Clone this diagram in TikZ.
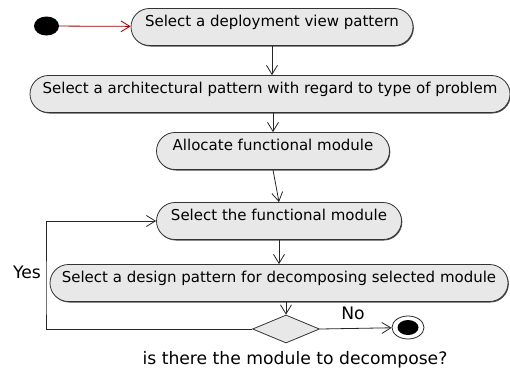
\documentclass[tikz,border=0pt]{standalone}
\usepackage{fontspec}
\setmainfont{DejaVu Sans}
\usetikzlibrary{arrows.meta,shapes.geometric,shadows}

\begin{document}
\begin{tikzpicture}[x=1pt,y=1pt,
    action/.style={draw=black!80, line width=0.8pt, fill=black!9, rounded corners=18.5pt,
        minimum height=37pt, inner xsep=4pt, inner ysep=3pt,
        text height=15pt, text depth=16pt, font=\fontsize{15}{18}\selectfont,
        drop shadow={shadow xshift=0.8pt, shadow yshift=-1pt, fill=black!70, opacity=1}},
    flow/.style={draw=black!85, line width=0.8pt, -{Straight Barb[length=9pt,width=11pt]}},
    note/.style={inner sep=0pt, font=\fontsize{17.2}{20}\selectfont}]
    \useasboundingbox (0,0) rectangle (510,-372);
    \node [ellipse, fill=black, minimum width=25pt, minimum height=19pt, inner sep=0pt] (start) at (46.5,-26) {};
    \node [action, minimum width=282pt] (deploy) at (272,-27) {Select a deployment view pattern};
    \node [action, minimum width=480pt] (archi) at (270,-94) {Select a architectural pattern with regard to type of problem};
    \node [action, minimum width=233pt] (alloc) at (273,-151) {Allocate functional module};
    \node [action, minimum width=245pt] (selmod) at (279,-221) {Select the functional module};
    \node [action, minimum width=458pt] (design) at (279,-283) {Select a design pattern for decomposing selected module};
    \node [diamond, draw=black!80, line width=0.8pt, fill=black!9, minimum width=67pt, minimum height=28pt, inner sep=0pt] (decide) at (286,-329) {};
    \node [ellipse, draw=black!85, line width=0.8pt, fill=white, minimum width=32pt, minimum height=23pt, inner sep=0pt] (final) at (408,-327.5) {};
    \node [ellipse, fill=black, minimum width=21pt, minimum height=15pt, inner sep=0pt] (finaldot) at (final) {};
    \coordinate (loopturn) at (46,-300);
    \draw [flow, draw=red!60!black] (start) -- (deploy);
    \draw [flow] (deploy.south) -- (deploy.south |- archi.north);
    \draw [flow] (alloc.north |- archi.south) -- (alloc.north);
    \draw [flow] (alloc.south) -- (selmod.north);
    \draw [flow] (selmod.south) -- (design.north);
    \draw [flow] (design.south -| decide.north) -- (decide.north);
    \draw [flow] (decide.east) -- (final);
    \draw [flow] (decide.west) -| (loopturn) |- (selmod.west);
    \node [note] (yes) at (27,-272) {Yes};
    \node [note] (no) at (353,-313) {No};
    \node [note] (question) at (295,-360) {is there the module to decompose?};
\end{tikzpicture}
\end{document}
